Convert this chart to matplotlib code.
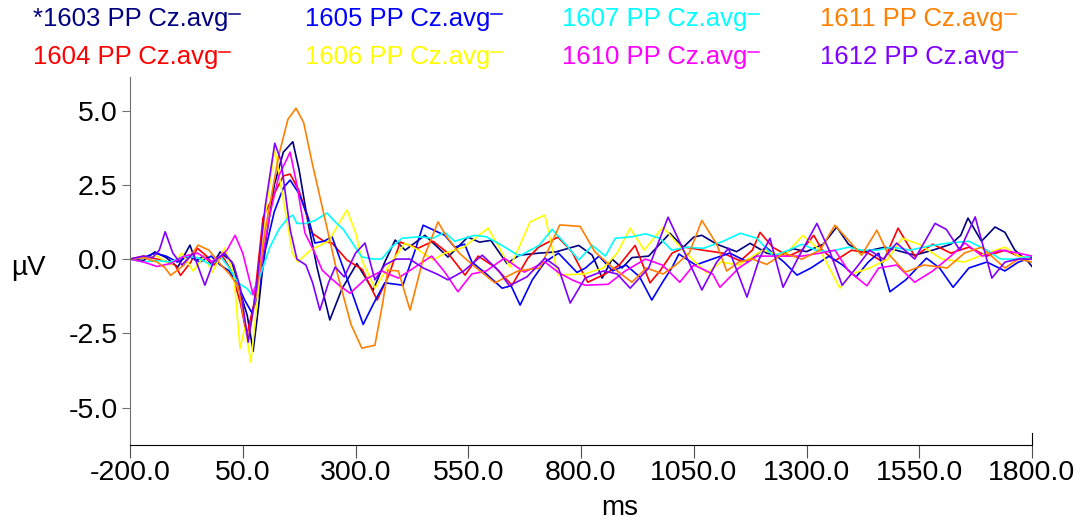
import matplotlib
matplotlib.use("Agg")
import matplotlib.pyplot as plt
from matplotlib.lines import Line2D

plt.rcParams["font.family"] = ["Liberation Sans", "DejaVu Sans"]

# grand average waveforms, Cz (ms, uV)
ms_1603 = [-200, -170, -145, -120, -94, -67, -55, -35, -18, 0, 26, 44, 60, 73, 85, 100, 120, 140, 161, 175,
           195, 215, 243, 270, 303, 339, 365, 388, 410, 454, 505, 549, 575, 600, 636, 663, 707, 744, 795, 825,
           847, 869, 891, 913, 950, 997, 1027, 1050, 1068, 1101, 1145, 1175, 1212, 1241, 1270, 1300, 1337, 1367,
           1393, 1422, 1474, 1540, 1580, 1620, 1642, 1658, 1688, 1718, 1740, 1762, 1792, 1800]
uv_1603 = [0, -0.05, 0.24, 0.05, -0.27, 0.47, -0.05, 0.1, -0.2, 0.24, -0.1, -1.1, -1.9, -3.1, -1.6, 0.5, 2.5, 3.6,
           3.95, 3.0, 1.2, -0.3, -2.05, -1.0, -0.15, -1.05, -0.1, 0.64, 0.3, 0.8, 0.07, 0.74, 0.57, 0.63, -0.15,
           0.13, 0.2, 0.24, 0.46, 0.13, -0.64, 0.0, -0.3, 0.05, 0.1, 0.87, 0.4, 0.74, 0.8, 0.5, 0.25, 0.53, 0.2,
           0.1, 0.35, 0.25, 0.5, 1.08, 0.5, 0.23, 0.4, 0.13, 0.3, 0.5, 0.8, 1.38, 0.6, 1.08, 0.9, 0.3, -0.1, -0.25]

ms_1604 = [-200, -170, -140, -115, -100, -88, -65, -51, -30, -14, 5, 25, 45, 59, 75, 95, 120, 140, 155, 175,
           204, 230, 248, 281, 315, 348, 375, 399, 439, 472, 505, 543, 572, 609, 647, 682, 706, 749, 780, 815,
           854, 885, 920, 953, 975, 1002, 1031, 1070, 1115, 1153, 1180, 1197, 1225, 1260, 1290, 1316, 1335,
           1363, 1400, 1437, 1470, 1503, 1540, 1580, 1620, 1660, 1700, 1740, 1770, 1800]
uv_1604 = [0, 0.1, 0.0, -0.1, -0.2, -0.55, -0.1, 0.37, 0.1, -0.2, 0.1, -0.4, -1.5, -2.56, -1.5, 1.4, 2.2, 2.8,
           2.86, 2.3, 0.87, 0.6, 0.54, -0.03, -0.35, -1.38, -0.5, 0.57, 0.37, 0.6, 0.2, -0.54, 0.1, -0.27, -0.88,
           0.03, 0.4, 0.74, 0.24, -0.78, -0.5, -0.2, 0.46, -0.8, -0.4, 0.2, 0.4, 0.3, 0.2, -0.06, 0.3, 0.9, 0.4,
           0.1, 0.3, 0.8, 0.3, -0.06, 0.3, 0.2, -0.1, 1.04, 0.1, 0.5, 0.2, 0.4, 0.1, 0.3, 0.1, 0.0]

ms_1605 = [-200, -170, -145, -120, -95, -70, -45, -20, 0, 20, 40, 55, 70, 85, 100, 120, 140, 155, 175, 195,
           210, 230, 248, 280, 317, 340, 365, 405, 430, 450, 498, 520, 542, 558, 590, 625, 645, 665, 692, 720,
           750, 791, 810, 840, 870, 900, 930, 957, 980, 1002, 1017, 1054, 1091, 1130, 1170, 1210, 1250, 1279,
           1310, 1350, 1380, 1410, 1437, 1460, 1485, 1520, 1566, 1595, 1625, 1660, 1700, 1740, 1770, 1800]
uv_1605 = [0, 0.05, 0.2, 0.1, -0.1, 0.1, -0.1, 0.1, -0.2, -0.4, -0.9, -1.4, -1.8, -1.2, 0.3, 1.6, 2.4, 2.66,
           2.2, 1.4, 0.54, 0.6, 0.75, -0.6, -2.2, -1.5, -0.8, -0.88, 0.2, 1.14, 0.8, 0.4, 0.5, -0.1, -0.5, -0.98,
           -0.9, -1.55, -0.7, -0.1, 0.2, -0.45, -0.3, 0.1, -0.4, -0.2, -0.6, -1.38, -0.8, -0.28, 0.17, -0.2, 0.0,
           0.2, -0.1, 0.4, -0.1, -0.54, -0.3, 0.1, -0.2, -0.6, -0.1, 0.2, -1.1, -0.7, 0.03, -0.3, -0.95, -0.3,
           -0.1, -0.4, -0.1, 0.05]

ms_1606 = [-200, -170, -140, -110, -85, -60, -35, -18, 10, 30, 44, 55, 68, 85, 100, 121, 140, 160, 172, 200,
           240, 281, 300, 314, 343, 375, 410, 440, 472, 498, 540, 594, 643, 687, 720, 749, 808, 850, 880, 909,
           940, 982, 1026, 1079, 1110, 1150, 1203, 1250, 1292, 1330, 1374, 1400, 1440, 1480, 1512, 1550, 1600,
           1650, 1700, 1740, 1770, 1800]
uv_1606 = [0, 0.05, 0.1, -0.2, 0.2, -0.4, 0.1, -0.45, 0.37, -0.5, -3.0, -2.3, -3.47, -1.0, 1.5, 3.7, 2.0, 0.2,
           -0.1, 0.3, 0.6, 1.65, 0.9, -0.03, -0.98, -0.2, 0.54, 0.3, -0.03, 0.2, 0.4, 1.04, -0.27, 1.25, 1.48,
           -0.54, -0.5, -0.3, 0.2, 1.04, 0.3, 1.08, 0.3, -0.47, -0.1, -0.2, 0.3, 0.1, 0.8, 0.3, -0.98, -0.5, -0.3,
           0.0, 0.7, 0.5, 0.0, -0.1, 0.2, 0.4, 0.1, 0.0]

ms_1607 = [-200, -170, -140, -110, -80, -50, -20, 0, 20, 40, 60, 70, 90, 110, 130, 150, 161, 170, 190, 210,
           237, 255, 273, 295, 314, 340, 358, 380, 403, 440, 472, 498, 520, 542, 565, 590, 626, 663, 707, 736,
           766, 795, 825, 854, 876, 913, 943, 975, 1001, 1035, 1071, 1115, 1153, 1190, 1226, 1260, 1290, 1321,
           1350, 1393, 1422, 1456, 1490, 1530, 1575, 1620, 1660, 1700, 1730, 1760, 1800]
uv_1607 = [0, -0.1, -0.05, -0.1, 0.1, 0.05, -0.2, 0.1, -0.3, -0.8, -1.0, -1.2, -0.5, 0.4, 1.0, 1.38, 1.48, 1.2,
           1.2, 1.3, 1.55, 1.25, 1.0, 0.5, 0.07, 0.0, 0.0, 0.4, 0.7, 0.75, 0.7, 0.9, 0.6, 0.7, 0.8, 0.75, 0.45,
           0.1, 0.46, 1.0, 0.5, -0.03, 0.46, 0.1, 0.7, 0.75, 0.85, 0.7, 0.3, 0.4, 0.36, 0.6, 0.87, 0.7, 0.1, 0.3,
           0.5, 0.3, 0.25, 0.4, 0.3, 0.3, 0.4, 0.3, 0.45, 0.55, 0.6, 0.3, 0.0, 0.0, 0.1]

ms_1610 = [-200, -170, -140, -110, -80, -50, -20, 0, 15, 33, 50, 73, 90, 110, 130, 155, 170, 188, 210, 226,
           242, 265, 288, 320, 358, 395, 439, 469, 498, 527, 558, 590, 630, 674, 720, 749, 780, 809, 860, 898,
           943, 980, 1019, 1050, 1092, 1108, 1150, 1190, 1240, 1290, 1330, 1363, 1393, 1434, 1460, 1500, 1540,
           1580, 1620, 1651, 1690, 1730, 1770, 1800]
uv_1610 = [0, -0.1, -0.25, -0.15, 0.1, 0.2, -0.1, 0.1, 0.3, 0.8, 0.2, -1.2, -0.3, 1.5, 2.8, 3.6, 2.5, 0.87, 0.2,
           -0.37, -0.6, -0.9, -1.15, -0.7, -0.4, -0.64, -0.2, 0.1, -0.44, -1.1, -0.5, -0.4, 0.03, -0.44, -0.1,
           -0.44, -0.7, -0.88, -0.85, -0.4, 0.0, -0.2, -0.78, -0.2, -0.5, -0.95, -0.3, 0.1, 0.1, 0.1, 0.2, 0.3,
           -0.4, -0.9, -0.3, -0.2, -0.78, -0.4, 0.1, 0.54, 0.1, 0.3, 0.2, 0.1]

ms_1611 = [-200, -170, -140, -122, -110, -80, -49, -25, 2, 20, 40, 50, 62, 80, 100, 130, 150, 168, 185, 203,
           230, 260, 290, 314, 343, 360, 372, 395, 421, 450, 483, 500, 530, 560, 609, 660, 709, 753, 798, 831,
           869, 913, 945, 982, 1010, 1040, 1068, 1101, 1123, 1150, 1180, 1212, 1250, 1290, 1330, 1363, 1395,
           1422, 1456, 1480, 1519, 1560, 1612, 1650, 1688, 1740, 1770, 1800]
uv_1611 = [0, 0.05, -0.1, -0.3, -0.55, -0.2, 0.47, 0.3, -0.2, -0.5, -0.9, -1.8, -2.7, -1.2, 1.0, 3.5, 4.7, 5.08,
           4.6, 3.3, 1.5, -0.5, -2.2, -3.0, -2.9, -1.5, -0.37, -0.4, -1.72, 0.0, 1.25, 0.8, 0.2, -0.2, -0.8,
           -0.4, -0.3, 1.15, 1.1, 0.24, -0.27, -0.78, -0.3, -0.5, -0.2, 0.2, 1.3, 0.5, -0.4, -0.1, 0.0, -0.18, 0.2,
           0.0, 0.3, 1.14, 0.6, 0.13, 0.97, 0.2, -0.44, -0.2, -0.3, 0.2, 0.4, -0.3, 0.0, -0.1]

ms_1612 = [-200, -170, -150, -135, -122, -105, -85, -60, -34, -15, 10, 30, 45, 62, 80, 100, 121, 135, 155, 170,
           190, 205, 221, 240, 255, 275, 300, 321, 343, 365, 390, 420, 450, 480, 505, 540, 581, 618, 641, 680,
           720, 750, 776, 809, 850, 880, 909, 950, 993, 1019, 1068, 1101, 1127, 1168, 1195, 1219, 1248, 1280,
           1323, 1353, 1379, 1410, 1440, 1470, 1500, 1540, 1585, 1610, 1640, 1674, 1711, 1740, 1770, 1800]
uv_1612 = [0, 0.1, 0.05, 0.3, 0.92, 0.2, -0.2, 0.2, -0.88, -0.1, 0.2, -0.2, -1.0, -2.8, -1.0, 1.8, 3.9, 3.3,
           1.0, 0.0, -0.2, -0.8, -1.72, -0.8, -0.27, -0.6, 0.2, 0.54, -0.7, -0.2, 0.0, 0.0, -0.3, -0.5, -0.7,
           -0.4, 0.13, -0.4, -0.9, -0.6, 0.03, -0.3, -1.48, -0.64, -0.4, -0.5, -0.98, -0.3, 1.41, 0.57, -1.04,
           -0.1, 0.36, -1.28, 0.0, 0.7, -0.95, 0.0, 1.2, 0.2, -0.88, -0.3, 0.3, 0.0, 0.54, 0.0, 1.2, 1.0, 0.3,
           1.42, -0.64, -0.1, 0.0, 0.0]

x_ticks = [-200, 50, 300, 550, 800, 1050, 1300, 1550, 1800]
y_ticks = [-5.0, -2.5, 0.0, 2.5, 5.0]

# legend layout: two rows of four, in this order
series = [
    ("*1603 PP Cz.avg", "#000080", ms_1603, uv_1603),
    ("1605 PP Cz.avg", "#0000FF", ms_1605, uv_1605),
    ("1607 PP Cz.avg", "#00FFFF", ms_1607, uv_1607),
    ("1611 PP Cz.avg", "#FF8000", ms_1611, uv_1611),
    ("1604 PP Cz.avg", "#FF0000", ms_1604, uv_1604),
    ("1606 PP Cz.avg", "#FFFF00", ms_1606, uv_1606),
    ("1610 PP Cz.avg", "#FF00FF", ms_1610, uv_1610),
    ("1612 PP Cz.avg", "#8000FF", ms_1612, uv_1612),
]
draw_order = [0, 4, 1, 5, 2, 6, 3, 7]

W, H = 1087, 527
fig = plt.figure(figsize=(W / 100, H / 100), dpi=100)
ax = fig.add_axes([130 / W, 1 - 445 / H, (1032 - 130) / W, (445 - 77) / H])

for i in draw_order:
    label, color, xs, ys = series[i]
    ax.plot(xs, ys, color=color, linewidth=1.2, solid_joinstyle="round")

ax.set_xlim(-200, 1800)
ax.set_ylim(-6.26, 6.13)
ax.set_xticks(x_ticks)
ax.set_xticklabels([f"{v:.1f}" for v in x_ticks])
ax.set_yticks(y_ticks)
ax.set_yticklabels([f"{v:.1f}" for v in y_ticks])

for side in ("top", "right"):
    ax.spines[side].set_visible(False)
ax.spines["left"].set_color("#707070")
ax.spines["bottom"].set_color("black")
ax.tick_params(axis="y", direction="out", length=6, width=0.8, color="#707070", pad=3, labelsize=20.5)
ax.tick_params(axis="x", direction="out", length=9, width=0.8, color="#505050", pad=2, labelsize=20.5)
ax.axvline(1800, ymin=0, ymax=12 / 368, color="black", linewidth=0.8, clip_on=False)

fig.text(28 / W, 1 - 268 / H, "µV", fontsize=20, ha="center", va="center")
fig.text(620 / W, 1 - 508 / H, "ms", fontsize=20, ha="center", va="center")

# legend drawn by hand: text then a short raised line stub
col_x = [33, 305, 562, 820]
row_y = [19, 57]
fig.canvas.draw()
renderer = fig.canvas.get_renderer()
for k, (label, color, xs, ys) in enumerate(series):
    r, c = divmod(k, 4)
    t = fig.text(col_x[c] / W, 1 - row_y[r] / H, label, color=color, fontsize=18.5,
                 ha="left", va="center")
    bb = t.get_window_extent(renderer)
    y_stub = 1 - (row_y[r] - 5) / H
    fig.add_artist(Line2D([(bb.x1 + 1) / W, (bb.x1 + 12) / W], [y_stub, y_stub],
                          color=color, linewidth=1.1))

fig.savefig("out.png", dpi=100)
